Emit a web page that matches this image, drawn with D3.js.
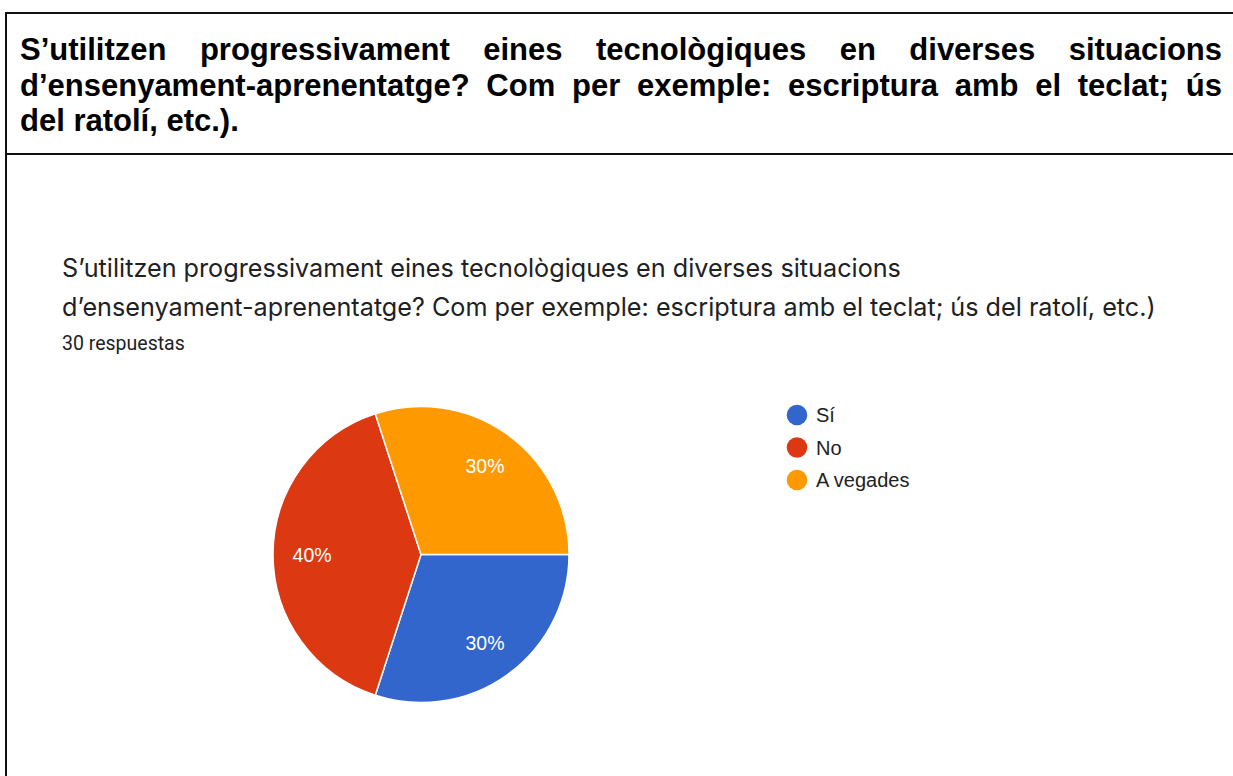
<!DOCTYPE html>
<html>
<head>
<meta charset="utf-8">
<script src="https://cdn.jsdelivr.net/npm/d3@7"></script>
<style>
  html, body { margin: 0; padding: 0; background: #ffffff; }
  svg { display: block; }
</style>
</head>
<body>
<svg id="chart" width="1233" height="776"></svg>
<script>
// Survey question shown in the header box (one entry per line, last line not justified)
const headerLines = [
  "S’utilitzen progressivament eines tecnològiques en diverses situacions",
  "d’ensenyament-aprenentatge? Com per exemple: escriptura amb el teclat; ús",
  "del ratolí, etc.)."
];
const titleLines = [
  "S’utilitzen progressivament eines tecnològiques en diverses situacions",
  "d’ensenyament-aprenentatge? Com per exemple: escriptura amb el teclat; ús del ratolí, etc.)"
];
const responseCount = "30 respuestas";

// Answers and their share of the 30 responses
const categories = ["Sí", "No", "A vegades"];
const values = [30, 40, 30];
const colors = ["#3366cc", "#dc3912", "#ff9900"];

const svg = d3.select("#chart");
const W = 1233, H = 776;

// Table frame: top rule, rule under header, left edge
svg.append("line").attr("x1", 5).attr("x2", W).attr("y1", 13).attr("y2", 13)
  .attr("stroke", "#111").attr("stroke-width", 2);
svg.append("line").attr("x1", 5).attr("x2", W).attr("y1", 154).attr("y2", 154)
  .attr("stroke", "#111").attr("stroke-width", 2);
svg.append("line").attr("x1", 6).attr("x2", 6).attr("y1", 12).attr("y2", H)
  .attr("stroke", "#111").attr("stroke-width", 2);

// Header text, justified between left and right margins
const hdrSize = 31;
const hdrLeft = 20, hdrRight = 1222, hdrBase = 60, hdrStep = 35.5;
const hdr = svg.append("g")
  .attr("font-family", "'Liberation Sans', Arial, sans-serif")
  .attr("font-weight", "bold")
  .attr("font-size", hdrSize)
  .attr("fill", "#000");

headerLines.forEach((line, i) => {
  const y = hdrBase + i * hdrStep;
  const words = line.split(" ");
  const last = i === headerLines.length - 1;
  const nodes = words.map(w => hdr.append("text").attr("y", y).text(w));
  const widths = nodes.map(n => n.node().getComputedTextLength());
  const total = d3.sum(widths);
  const space = hdrSize * 0.278;
  const gap = last || words.length < 2 ? space : (hdrRight - hdrLeft - total) / (words.length - 1);
  let x = hdrLeft;
  nodes.forEach((n, k) => { n.attr("x", x); x += widths[k] + gap; });
});

// Chart title and response count
const title = svg.append("g").attr("fill", "#202124");
titleLines.forEach((t, i) => {
  title.append("text").attr("x", 62).attr("y", 277 + i * 38.5)
    .attr("font-family", "Inter, Roboto, sans-serif")
    .attr("font-size", 25.2).text(t);
});
title.append("text").attr("x", 62).attr("y", 350)
  .attr("font-family", "Roboto, 'Noto Sans', sans-serif")
  .attr("font-size", 19.5).text(responseCount);

// Pie chart, first slice starting at 3 o'clock, going clockwise
const cx = 421, cy = 554.5, r = 148;
const pie = d3.pie().sort(null).value(d => d)
  .startAngle(Math.PI / 2).endAngle(Math.PI / 2 + 2 * Math.PI);
const arcs = pie(values);
const arc = d3.arc().innerRadius(0).outerRadius(r);
const labelArc = d3.arc().innerRadius(r * 0.736).outerRadius(r * 0.736);
const color = d3.scaleOrdinal().domain(categories).range(colors);
const total = d3.sum(values);

const g = svg.append("g").attr("transform", `translate(${cx},${cy})`);
g.selectAll("path.slice").data(arcs).enter().append("path")
  .attr("class", "slice")
  .attr("d", arc)
  .attr("fill", (d, i) => color(categories[i]))
  .attr("stroke", "#ffffff")
  .attr("stroke-width", 1.5);

g.selectAll("text.pct").data(arcs).enter().append("text")
  .attr("class", "pct")
  .attr("transform", d => `translate(${labelArc.centroid(d)})`)
  .attr("text-anchor", "middle")
  .attr("dy", "0.36em")
  .attr("font-family", "'Liberation Sans', Arial, sans-serif")
  .attr("font-size", 19.5)
  .attr("fill", "#ffffff")
  .text(d => Math.round(d.value / total * 100) + "%");

// Legend
const legendY = d3.scalePoint().domain(categories).range([415, 480]);
const legend = svg.append("g");
const item = legend.selectAll("g").data(categories).enter().append("g")
  .attr("transform", d => `translate(797,${legendY(d)})`);
item.append("circle").attr("r", 10.3).attr("fill", d => color(d));
item.append("text").attr("x", 19).attr("dy", "0.36em")
  .attr("font-family", "'Liberation Sans', Arial, sans-serif")
  .attr("font-size", 20)
  .attr("fill", "#222")
  .text(d => d);
</script>
</body>
</html>
